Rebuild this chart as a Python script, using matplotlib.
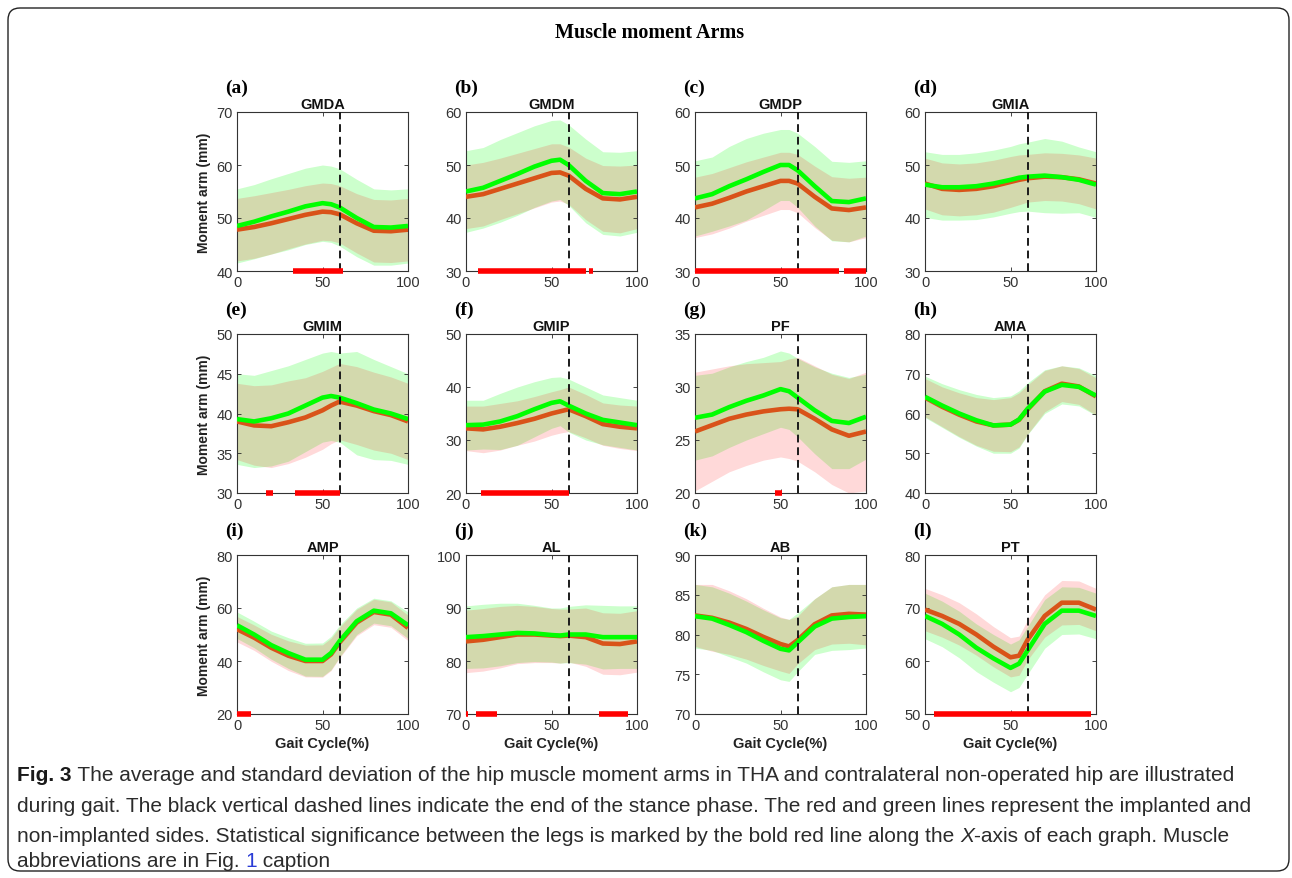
import matplotlib
matplotlib.use('Agg')
import matplotlib.pyplot as plt
import numpy as np
from matplotlib import font_manager
from matplotlib.patches import FancyBboxPatch
from matplotlib.transforms import IdentityTransform

# gait cycle samples (%)
gait = [0, 10, 20, 30, 40, 50, 55, 60, 70, 80, 90, 100]

# red = implanted (THA) side, green = non-implanted side; mean and sd (mm)
gmda_red = [47.8, 48.3, 49.0, 49.8, 50.6, 51.2, 51.1, 50.7, 49.0, 47.6, 47.5, 47.8]
gmda_red_sd = [5.9, 5.9, 5.8, 5.6, 5.5, 5.4, 5.4, 5.4, 5.6, 5.9, 5.9, 5.9]
gmda_grn = [48.5, 49.3, 50.3, 51.2, 52.2, 52.8, 52.6, 52.0, 50.0, 48.3, 48.2, 48.5]
gmda_grn_sd = [7.0, 7.0, 7.1, 7.2, 7.2, 7.2, 7.2, 7.3, 7.3, 7.2, 7.1, 7.0]
gmda_sig = [(33, 62)]

gmdm_red = [44.0, 44.5, 45.5, 46.5, 47.5, 48.5, 48.6, 48.0, 45.5, 43.7, 43.5, 44.0]
gmdm_red_sd = [6.0, 6.0, 5.8, 5.7, 5.6, 5.5, 5.4, 5.4, 5.8, 6.2, 6.3, 6.0]
gmdm_grn = [45.0, 45.7, 47.0, 48.3, 49.7, 50.8, 51.0, 50.0, 47.0, 44.7, 44.5, 45.0]
gmdm_grn_sd = [7.7, 7.6, 7.8, 7.8, 7.7, 7.6, 7.5, 7.6, 7.9, 7.8, 7.9, 7.7]
gmdm_sig = [(7, 70), (72, 74)]

gmdp_red = [42.0, 42.7, 43.8, 45.0, 46.0, 47.0, 47.0, 46.5, 44.0, 41.8, 41.5, 42.0]
gmdp_red_sd = [5.7, 5.7, 5.7, 5.6, 5.5, 5.4, 5.4, 5.5, 5.8, 6.0, 6.0, 5.7]
gmdp_grn = [43.7, 44.5, 46.0, 47.3, 48.7, 50.0, 50.0, 49.0, 46.0, 43.2, 43.0, 43.7]
gmdp_grn_sd = [7.1, 7.0, 7.5, 7.7, 7.3, 6.7, 6.7, 7.0, 7.5, 7.5, 7.5, 7.1]
gmdp_sig = [(0, 84), (87, 100)]

gmia_red = [46.5, 45.5, 45.3, 45.5, 46.0, 46.8, 47.2, 47.5, 47.8, 47.7, 47.3, 46.5]
gmia_red_sd = [4.8, 4.9, 4.9, 4.9, 4.9, 4.8, 4.7, 4.5, 4.5, 4.5, 4.6, 4.8]
gmia_grn = [46.3, 45.8, 45.8, 46.0, 46.5, 47.2, 47.6, 47.8, 48.0, 47.7, 47.2, 46.3]
gmia_grn_sd = [6.2, 6.2, 6.2, 6.3, 6.3, 6.3, 6.4, 6.5, 7.0, 6.8, 6.2, 6.2]
gmia_sig = []

gmim_red = [39.0, 38.5, 38.4, 38.9, 39.5, 40.4, 41.0, 41.5, 41.0, 40.3, 39.8, 39.0]
gmim_red_sd = [4.8, 5.0, 5.2, 5.2, 5.0, 4.9, 4.8, 4.8, 4.9, 4.9, 4.8, 4.8]
gmim_grn = [39.3, 39.0, 39.4, 40.0, 41.0, 42.0, 42.2, 42.0, 41.3, 40.5, 40.0, 39.3]
gmim_grn_sd = [5.7, 5.8, 6.0, 6.0, 5.8, 5.6, 5.6, 5.6, 6.5, 6.3, 5.9, 5.7]
gmim_sig = [(17, 21), (34, 60)]

gmip_red = [32.2, 32.0, 32.5, 33.2, 34.0, 35.0, 35.4, 35.8, 34.5, 33.0, 32.5, 32.2]
gmip_red_sd = [4.2, 4.4, 4.4, 4.2, 4.2, 4.1, 4.1, 4.2, 4.1, 4.0, 4.1, 4.2]
gmip_grn = [32.8, 32.9, 33.5, 34.5, 35.8, 37.0, 37.3, 36.5, 35.0, 33.8, 33.3, 32.8]
gmip_grn_sd = [4.7, 4.6, 5.3, 5.5, 5.2, 4.8, 4.6, 5.0, 5.0, 4.7, 4.7, 4.7]
gmip_sig = [(9, 60)]

pf_red = [25.8, 26.4, 27.0, 27.4, 27.7, 27.9, 27.95, 27.9, 27.0, 26.0, 25.4, 25.8]
pf_red_sd = [5.6, 5.3, 5.0, 4.8, 4.6, 4.5, 4.7, 4.9, 5.0, 5.2, 5.4, 5.6]
pf_grn = [27.1, 27.4, 28.1, 28.7, 29.2, 29.8, 29.6, 29.0, 27.8, 26.8, 26.6, 27.2]
pf_grn_sd = [4.0, 3.9, 3.8, 3.7, 3.6, 3.6, 3.6, 3.7, 4.1, 4.5, 4.3, 4.0]
pf_sig = [(47, 51)]

ama_red = [64.0, 61.7, 59.7, 58.0, 57.0, 57.2, 58.4, 61.0, 65.6, 67.5, 66.8, 64.3]
ama_red_sd = [4.8, 5.0, 5.5, 6.0, 6.5, 6.8, 6.8, 6.2, 5.2, 4.5, 4.5, 4.7]
ama_grn = [64.2, 62.0, 60.0, 58.3, 57.0, 57.2, 58.5, 61.2, 65.5, 67.2, 66.7, 64.5]
ama_grn_sd = [5.2, 5.5, 6.0, 6.5, 7.0, 7.2, 7.2, 6.5, 5.5, 4.8, 4.8, 5.0]
ama_sig = []

amp_red = [52.0, 48.8, 45.0, 42.0, 40.0, 40.0, 42.5, 47.0, 54.5, 58.5, 57.5, 52.5]
amp_red_sd = [4.8, 4.8, 5.1, 5.6, 6.0, 6.1, 6.1, 5.8, 5.0, 4.8, 4.8, 4.8]
amp_grn = [53.5, 50.0, 46.0, 43.0, 40.5, 40.5, 43.0, 47.5, 55.0, 59.0, 58.0, 53.5]
amp_grn_sd = [5.0, 5.0, 5.3, 5.8, 6.2, 6.3, 6.3, 6.0, 5.0, 4.7, 4.7, 5.0]
amp_sig = [(0, 8)]

al_red = [83.7, 84.0, 84.5, 85.0, 85.0, 84.8, 84.7, 84.8, 84.5, 83.3, 83.2, 83.7]
al_red_sd = [5.9, 5.9, 5.8, 5.5, 5.3, 5.1, 5.1, 5.0, 5.5, 5.8, 5.8, 5.8]
al_grn = [84.5, 84.7, 85.0, 85.3, 85.2, 84.9, 84.8, 85.0, 85.0, 84.5, 84.5, 84.5]
al_grn_sd = [5.9, 6.0, 5.9, 5.6, 5.3, 5.1, 5.2, 5.3, 5.6, 6.0, 5.9, 5.9]
al_sig = [(0, 1), (6, 18), (78, 95)]

ab_red = [82.4, 82.1, 81.5, 80.7, 79.7, 78.8, 78.5, 79.3, 81.3, 82.4, 82.6, 82.5]
ab_red_sd = [3.9, 4.2, 4.0, 3.8, 3.6, 3.4, 3.4, 3.0, 3.2, 3.6, 3.7, 3.8]
ab_grn = [82.3, 82.0, 81.2, 80.3, 79.2, 78.2, 78.0, 79.0, 81.0, 82.0, 82.2, 82.3]
ab_grn_sd = [4.0, 4.0, 4.0, 3.9, 3.9, 3.9, 3.9, 3.7, 3.5, 4.0, 4.1, 4.0]
ab_sig = []

pt_red = [69.7, 68.5, 67.0, 65.0, 62.7, 60.7, 61.0, 64.0, 68.5, 71.0, 71.0, 69.7]
pt_red_sd = [4.0, 4.0, 4.0, 3.9, 3.8, 3.7, 3.7, 3.8, 4.0, 4.2, 4.1, 4.0]
pt_grn = [68.5, 67.0, 65.0, 62.5, 60.5, 58.7, 59.5, 62.0, 67.0, 69.5, 69.5, 68.5]
pt_grn_sd = [4.3, 4.3, 4.4, 4.5, 4.5, 4.5, 4.5, 4.5, 4.6, 4.5, 4.4, 4.3]
pt_sig = [(5, 97)]

names = ['GMDA', 'GMDM', 'GMDP', 'GMIA', 'GMIM', 'GMIP', 'PF', 'AMA', 'AMP', 'AL', 'AB', 'PT']
letters = ['(a)', '(b)', '(c)', '(d)', '(e)', '(f)', '(g)', '(h)', '(i)', '(j)', '(k)', '(l)']
ylims = [(40, 70), (30, 60), (30, 60), (30, 60), (30, 50), (20, 50),
         (20, 35), (40, 80), (20, 80), (70, 100), (70, 90), (50, 80)]
ysteps = [10, 10, 10, 10, 5, 10, 5, 10, 20, 10, 5, 10]
stance_end = 60

panels = [
    (gmda_red, gmda_red_sd, gmda_grn, gmda_grn_sd, gmda_sig),
    (gmdm_red, gmdm_red_sd, gmdm_grn, gmdm_grn_sd, gmdm_sig),
    (gmdp_red, gmdp_red_sd, gmdp_grn, gmdp_grn_sd, gmdp_sig),
    (gmia_red, gmia_red_sd, gmia_grn, gmia_grn_sd, gmia_sig),
    (gmim_red, gmim_red_sd, gmim_grn, gmim_grn_sd, gmim_sig),
    (gmip_red, gmip_red_sd, gmip_grn, gmip_grn_sd, gmip_sig),
    (pf_red, pf_red_sd, pf_grn, pf_grn_sd, pf_sig),
    (ama_red, ama_red_sd, ama_grn, ama_grn_sd, ama_sig),
    (amp_red, amp_red_sd, amp_grn, amp_grn_sd, amp_sig),
    (al_red, al_red_sd, al_grn, al_grn_sd, al_sig),
    (ab_red, ab_red_sd, ab_grn, ab_grn_sd, ab_sig),
    (pt_red, pt_red_sd, pt_grn, pt_grn_sd, pt_sig),
]

W, H = 1292, 879
fig = plt.figure(figsize=(W / 100, H / 100), dpi=100)

# rounded frame around the figure
frame = FancyBboxPatch((8, H - 872), 1281, 863, boxstyle='round,pad=0,rounding_size=12',
                       transform=IdentityTransform(), facecolor='none',
                       edgecolor='#222222', linewidth=1.0)
fig.patches.append(frame)

fig.text(650 / W, 1 - 33 / H, 'Muscle moment Arms', ha='center', va='center',
         family='Liberation Serif', fontweight='bold', fontsize=14.5)

col_left = [237, 466, 695, 925]
row_top = [113, 335, 556]
ax_w, ax_h = 171, 159
tick_col = '#262626'

x = np.array(gait)
for i, (red, red_sd, grn, grn_sd, sig) in enumerate(panels):
    r, c = divmod(i, 4)
    ax = fig.add_axes([col_left[c] / W, 1 - (row_top[r] + ax_h) / H, ax_w / W, ax_h / H])
    red = np.array(red); red_sd = np.array(red_sd)
    grn = np.array(grn); grn_sd = np.array(grn_sd)
    ax.fill_between(x, grn - grn_sd, grn + grn_sd, color=(0, 1, 0), alpha=0.2, lw=0)
    ax.fill_between(x, red - red_sd, red + red_sd, color=(1, 0, 0), alpha=0.15, lw=0)
    ax.plot(x, red, color='#D95319', lw=3.3, solid_capstyle='butt', solid_joinstyle='round', zorder=3)
    ax.plot(x, grn, color='#00FF00', lw=3.3, solid_capstyle='butt', solid_joinstyle='round', zorder=4)
    lo, hi = ylims[i]
    ax.axvline(stance_end, color='#1a1a1a', lw=1.4, ls=(0, (4, 2.5)), zorder=5)
    for s0, s1 in sig:
        ax.plot([s0, s1], [lo, lo], color='#ff0000', lw=4.0, solid_capstyle='butt',
                clip_on=False, zorder=6)
    ax.set_xlim(0, 100)
    ax.set_ylim(lo, hi)
    ax.set_xticks([0, 50, 100])
    ax.set_yticks(np.arange(lo, hi + 0.1, ysteps[i]))
    ax.tick_params(direction='in', top=True, right=True, length=3, width=0.6,
                   colors=tick_col, labelsize=10.5, pad=3)
    for lab in ax.get_xticklabels() + ax.get_yticklabels():
        lab.set_family('Liberation Sans')
        lab.set_color('#333333')
    for sp in ax.spines.values():
        sp.set_color('#333333')
        sp.set_linewidth(0.8)
    ax.set_title(names[i], fontsize=10.5, fontweight='bold', family='Liberation Sans',
                 pad=3, color='#111111')
    ax.text(-0.07, 1.155, letters[i], transform=ax.transAxes, ha='left', va='center',
            family='Liberation Serif', fontweight='bold', fontsize=14)
    if c == 0:
        ax.set_ylabel('Moment arm (mm)', fontsize=10, fontweight='bold',
                      family='Liberation Sans', color='#222222', labelpad=4)
    if r == 2:
        ax.set_xlabel('Gait Cycle(%)', fontsize=10.5, fontweight='bold',
                      family='Liberation Sans', color='#222222', labelpad=3)

# caption
avail = {f.name for f in font_manager.fontManager.ttflist}
cap_font = 'Liberation Sans Narrow' if 'Liberation Sans Narrow' in avail else 'Liberation Sans'
cap_size = 18 if cap_font == 'Liberation Sans Narrow' else 15
cap_col = '#2b2b2b'
ov = fig.add_axes([0, 0, 1, 1])
ov.axis('off')
ov.set_xlim(0, W)
ov.set_ylim(H, 0)


def chain(prev, s, **kw):
    opts = dict(va='bottom', ha='left', family=cap_font, fontsize=cap_size, color=cap_col)
    opts.update(kw)
    return ov.annotate(s, xy=(1, 0), xycoords=prev, **opts)


def line(y, s, **kw):
    opts = dict(va='center', ha='left', family=cap_font, fontsize=cap_size, color=cap_col)
    opts.update(kw)
    return ov.text(17, y, s, **opts)


t = line(776, 'Fig. 3', fontweight='bold', color='#1a1a1a')
chain(t, ' The average and standard deviation of the hip muscle moment arms in THA and '
      'contralateral non-operated hip are illustrated')
line(807, 'during gait. The black vertical dashed lines indicate the end of the stance '
     'phase. The red and green lines represent the implanted and')
t = line(837, 'non-implanted sides. Statistical significance between the legs is marked by '
         'the bold red line along the ')
t = chain(t, 'X', fontstyle='italic')
chain(t, '-axis of each graph. Muscle')
t = line(862, 'abbreviations are in Fig. ')
t = chain(t, '1', color='#2a3cd6')
chain(t, ' caption')

fig.savefig('out.png', dpi=100)
